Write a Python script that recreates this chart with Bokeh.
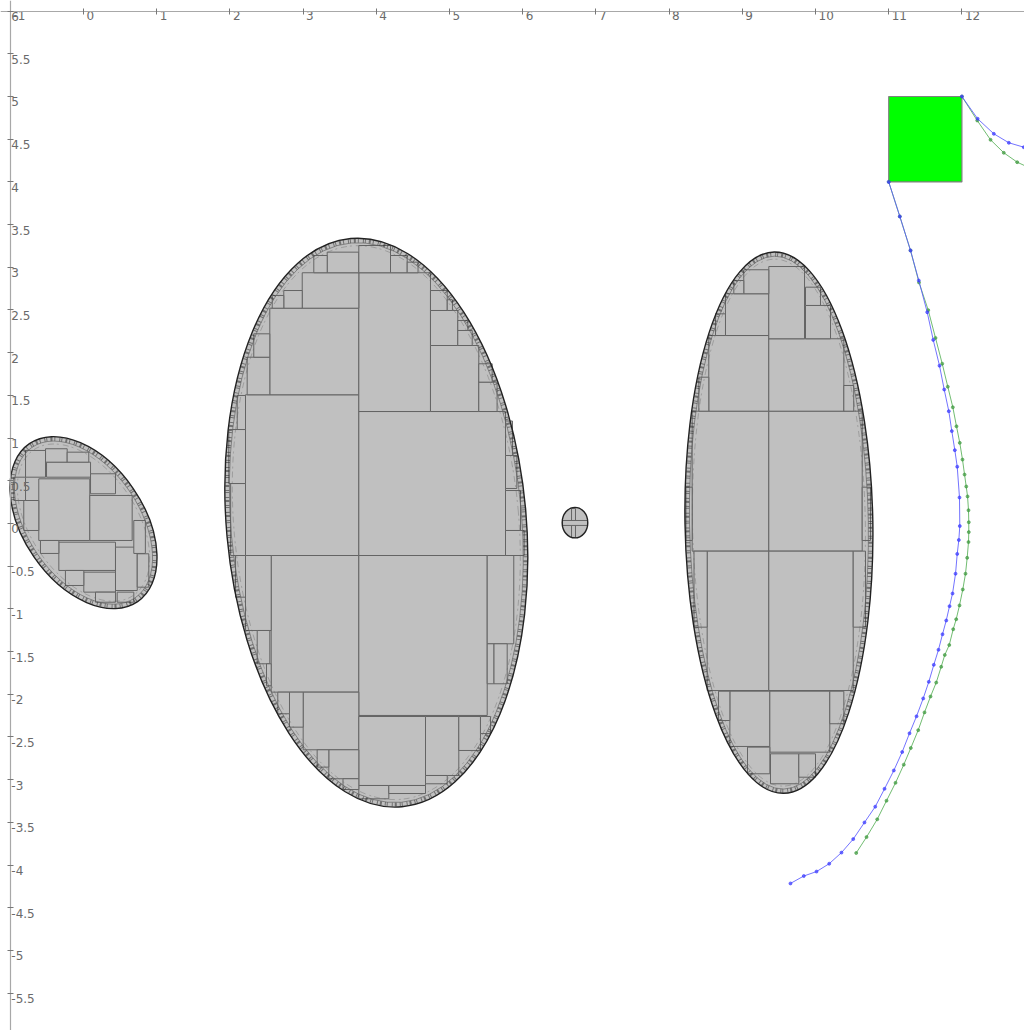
from bokeh.plotting import figure
from bokeh.models import LinearAxis, FixedTicker, Range1d, ColumnDataSource
from bokeh.embed import file_html
from bokeh.resources import INLINE
from bokeh.core.properties import value

# ---------------- data ----------------
x_tick_values = list(range(-1, 13))
x_tick_labels = ["-1", "0", "1", "2", "3", "4", "5", "6", "7", "8", "9", "10", "11", "12"]
y_tick_values = [-5.5, -5, -4.5, -4, -3.5, -3, -2.5, -2, -1.5, -1, -0.5, 0,
                 0.5, 1, 1.5, 2, 2.5, 3, 3.5, 4, 4.5, 5, 5.5, 6]
y_tick_labels = ["-5.5", "-5", "-4.5", "-4", "-3.5", "-3", "-2.5", "-2", "-1.5", "-1", "-0.5", "0",
                 "0.5", "1", "1.5", "2", "2.5", "3", "3.5", "4", "4.5", "5", "5.5", "6"]

# ellipses: small tilted, big, right, tiny circle
ell_x = [0.0, 4.0, 9.5, 6.714]
ell_y = [0.01, 0.01, 0.01, 0.01]
ell_w = [2.615, 4.096, 2.566, 0.35]
ell_h = [1.412, 6.681, 6.347, 0.358]
ell_angle = [-0.970, 0.0899, 0.0175, 0.0]

# rectangles inside the ellipses (left, right, bottom, top)
rect_x0 = [
    # small tilted ellipse
    -0.611, 0.086, -0.337, 0.437, 0.004, -0.505, 0.096, -0.816, -0.519, -0.223, -0.792, 0.734, -0.247, 0.460,
    0.687, -0.952, 0.164, -0.588,
    # big ellipse
    2.213, 3.761, 2.545, 3.761, 2.988, 3.329, 3.761, 4.740, 4.740, 5.113, 5.400, 2.736, 2.236, 2.326,
    4.740, 4.194, 5.765, 5.765, 2.010, 2.100, 1.985, 2.077,
    2.564, 3.761, 2.213, 5.515, 3.001, 3.761, 4.672, 5.127, 3.351, 2.814, 2.373, 5.605, 3.761, 4.171,
    3.545, 2.654, 5.423,
    2.578, 3.146, 4.422, 4.969, 5.113, 5.400, 2.500, 3.192, 4.672, 5.515, 5.765, 5.765,
    # right ellipse
    8.315, 9.362, 8.542, 9.362, 8.770, 9.362, 9.863, 9.020, 8.406, 10.387, 8.634, 8.884, 9.863, 8.230,
    10.638, 8.520, 9.362, 8.340, 10.515, 8.830, 9.376, 9.071, 9.385, 9.772, 10.195, 8.675,
    # tiny circle
    6.667, 6.544,
]
rect_x1 = [
    0.086, 0.665, 0.437, 0.734, 0.437, 0.096, 0.437, -0.611, -0.223, 0.072, -0.519, 0.892, 0.004, 0.687,
    0.845, -0.792, 0.437, -0.337,
    3.761, 5.765, 3.761, 4.740, 3.761, 3.761, 4.194, 5.400, 5.113, 5.310, 5.650, 2.988, 2.545, 2.545,
    4.969, 4.422, 5.920, 5.860, 2.213, 2.213, 2.213, 2.213,
    3.761, 5.515, 2.564, 5.878, 3.761, 4.672, 5.127, 5.423, 3.761, 3.001, 2.545, 5.788, 4.171, 4.672,
    3.761, 2.814, 5.560,
    2.736, 3.329, 4.570, 5.040, 5.250, 5.583, 2.564, 3.351, 4.969, 5.605, 5.970, 6.020,
    9.362, 10.638, 9.362, 10.387, 9.362, 9.850, 10.205, 9.362, 8.542, 10.522, 8.770, 9.020, 10.068, 8.315,
    10.751, 9.362, 10.515, 8.520, 10.683, 9.376, 10.195, 9.376, 9.772, 10.000, 10.387, 8.830,
    6.721, 6.885,
]
rect_y0 = [
    -0.199, -0.199, -0.550, -0.785, -0.804, 0.542, 0.348, -0.082, 0.718, 0.718, 0.542, -0.746, -0.726, -0.922,
    -0.351, 0.269, -0.922, -0.351,
    -0.375, -0.375, 1.507, 1.311, 2.521, 2.936, 2.936, 1.311, 2.084, 2.084, 1.311, 2.521, 1.507, 1.947,
    2.494, 2.936, 0.410, 0.796, -0.375, 1.100, 0.468, -0.863,
    -1.975, -2.248, -1.253, -1.409, -2.650, -3.068, -2.951, -2.658, -2.989, -2.385, -1.643, -1.877, -3.224, -3.162,
    -3.115, -2.228, -2.460,
    2.521, 2.936, 2.936, 2.494, 2.260, 1.655, -1.900, -2.853, -3.048, -1.877, -0.082, -0.375,
    -0.324, -0.324, 1.315, 1.315, 2.201, 2.163, 2.163, 2.690, 1.315, 1.315, 2.201, 2.690, 2.553, -0.199,
    -0.199, -1.956, -1.956, -1.214, -1.214, -2.611, -2.678, -2.931, -3.048, -2.971, -2.345, -2.307,
    -0.164, -0.023,
]
rect_y1 = [
    0.523, 0.328, -0.219, -0.277, -0.570, 0.718, 0.582, 0.269, 0.875, 0.835, 0.855, -0.355, -0.550, -0.804,
    0.035, 0.542, -0.804, -0.199,
    1.507, 1.311, 2.521, 2.936, 2.936, 3.177, 3.255, 2.084, 2.494, 2.260, 1.655, 2.728, 1.947, 2.221,
    2.728, 3.138, 0.796, 1.200, 0.468, 1.499, 1.100, -0.375,
    -0.375, -0.375, -0.375, -0.375, -1.975, -2.260, -2.260, -2.260, -2.650, -1.975, -1.253, -1.409, -3.068, -3.068,
    -2.989, -1.975, -2.260,
    2.670, 3.138, 3.060, 2.620, 2.377, 1.870, -1.643, -2.650, -2.951, -1.409, 0.386, -0.082,
    1.315, 1.315, 2.201, 2.163, 2.690, 3.009, 2.553, 2.971, 1.713, 1.616, 2.455, 2.845, 2.767, 0.425,
    0.425, -0.324, -0.324, -0.324, -0.324, -1.964, -1.964, -2.619, -2.697, -2.697, -1.964, -1.964,
    0.176, 0.035,
]

# green square
sq_left, sq_right, sq_bottom, sq_top = [11.0], [12.0], [4.0], [5.0]

# curves leaving the square corners
blue_low_x = [11.0, 11.152, 11.298, 11.411, 11.526, 11.608, 11.694, 11.758, 11.821, 11.862, 11.903, 11.936,
              11.967, 11.971, 11.958, 11.936, 11.913, 11.872, 11.831, 11.786, 11.735, 11.680, 11.616, 11.548,
              11.471, 11.380, 11.284, 11.184, 11.070, 10.943, 10.816, 10.669, 10.515, 10.355, 10.187, 10.014,
              9.840, 9.658]
blue_low_y = [4.0, 3.595, 3.197, 2.845, 2.474, 2.150, 1.848, 1.569, 1.315, 1.082, 0.859, 0.665,
              0.304, -0.030, -0.193, -0.356, -0.588, -0.820, -0.968, -1.136, -1.297, -1.479, -1.655, -1.854,
              -2.049, -2.258, -2.457, -2.676, -2.892, -3.107, -3.316, -3.501, -3.696, -3.854, -3.984, -4.076,
              -4.128, -4.215]
green_low_x = [11.0, 11.152, 11.298, 11.414, 11.540, 11.639, 11.731, 11.807, 11.876, 11.926, 11.971, 12.008,
               12.036, 12.059, 12.077, 12.090, 12.094, 12.094, 12.090, 12.072, 12.049, 12.012, 11.967, 11.922,
               11.881, 11.827, 11.766, 11.717, 11.649, 11.571, 11.489, 11.403, 11.302, 11.206, 11.093, 10.970,
               10.843, 10.697, 10.556]
green_low_y = [4.0, 3.595, 3.197, 2.822, 2.498, 2.173, 1.871, 1.602, 1.361, 1.138, 0.944, 0.748,
               0.573, 0.433, 0.317, 0.155, 0.015, -0.101, -0.217, -0.402, -0.588, -0.773, -0.959, -1.121,
               -1.238, -1.423, -1.539, -1.678, -1.863, -2.026, -2.212, -2.420, -2.629, -2.824, -3.037, -3.246,
               -3.464, -3.672, -3.858]
blue_up_x = [12.0, 12.215, 12.436, 12.641, 12.846, 13.07]
blue_up_y = [5.0, 4.739, 4.563, 4.458, 4.406, 4.38]
green_up_x = [12.0, 12.209, 12.391, 12.572, 12.755, 12.94]
green_up_y = [5.0, 4.719, 4.493, 4.341, 4.231, 4.157]

# ---------------- figure ----------------
XS = 73.2   # px per x unit (only for pixel insets of the border hatch)
YS = 85.4

p = figure(width=1024, height=1030, x_range=Range1d(-1.134, 12.855), y_range=Range1d(-5.937, 6.124),
           x_axis_type=None, y_axis_type=None, toolbar_location=None, output_backend="svg",
           min_border=0, outline_line_color=None, background_fill_color="white",
           border_fill_color="white")

ell = ColumnDataSource(dict(x=ell_x, y=ell_y, w=ell_w, h=ell_h, a=ell_angle))
p.ellipse(x="x", y="y", width="w", height="h", angle="a", source=ell,
          fill_color="#c0c0c0", line_color=None)

p.quad(left=rect_x0, right=rect_x1, bottom=rect_y0, top=rect_y1,
       fill_color="#c0c0c0", line_color="#646464", line_width=1)

# border fringe of tiny cells (hatch band just inside the outline)
def inset(px):
    return ColumnDataSource(dict(x=ell_x[:3], y=ell_y[:3],
                                 w=[w - 2 * px / XS for w in ell_w[:3]],
                                 h=[h - 2 * px / YS for h in ell_h[:3]], a=ell_angle[:3]))

p.ellipse(x="x", y="y", width="w", height="h", angle="a", source=inset(2.5),
          fill_color=None, line_color="#303030", line_width=4, line_alpha=0.55,
          line_dash="1 1 1 3 2 2 1 4")
p.ellipse(x="x", y="y", width="w", height="h", angle="a", source=inset(4.5),
          fill_color=None, line_color="#606060", line_width=1, line_alpha=0.65)
p.ellipse(x="x", y="y", width="w", height="h", angle="a", source=inset(7.5),
          fill_color=None, line_color="#6a6a6a", line_width=1, line_alpha=0.4,
          line_dash="6 3 2 4")

p.ellipse(x="x", y="y", width="w", height="h", angle="a", source=ell,
          fill_color=None, line_color="#222222", line_width=1.4)

# green square
p.quad(left=sq_left, right=sq_right, bottom=sq_bottom, top=sq_top,
       fill_color="#00ff00", line_color="#808080", line_width=1.2)

# curves
for xs, ys, col, mcol in [(green_low_x, green_low_y, "#58b058", "#3f9a3f"),
                          (green_up_x, green_up_y, "#58b058", "#3f9a3f"),
                          (blue_low_x, blue_low_y, "#5a5aff", "#3a3aff"),
                          (blue_up_x, blue_up_y, "#5a5aff", "#3a3aff")]:
    p.line(xs, ys, line_color=col, line_width=1, line_alpha=0.85)
    p.scatter(xs, ys, size=3, fill_color=mcol, line_color=mcol, line_alpha=0.6, fill_alpha=0.7)

# axes drawn through the data at y=6 (top) and x=-1 (left)
xaxis = LinearAxis(fixed_location=6, ticker=FixedTicker(ticks=x_tick_values),
                   axis_line_color="#a8a8a8", axis_line_width=1.2,
                   major_tick_line_color="#777777", major_tick_in=3, major_tick_out=3,
                   minor_tick_line_color=None, major_label_text_color=None)
yaxis = LinearAxis(fixed_location=-1, ticker=FixedTicker(ticks=y_tick_values),
                   axis_line_color="#a8a8a8", axis_line_width=1.2,
                   major_tick_line_color="#777777", major_tick_in=3, major_tick_out=3,
                   minor_tick_line_color=None, major_label_text_color=None)
p.add_layout(xaxis, "below")
p.add_layout(yaxis, "left")

p.text(x=x_tick_values, y=[6] * len(x_tick_values), text=x_tick_labels,
       x_offset=3, y_offset=0, text_align="left", text_baseline="top",
       text_font=value("DejaVu Sans"), text_font_size="12px", text_color="#6a6a6a")
p.text(x=[-1] * len(y_tick_values), y=y_tick_values, text=y_tick_labels,
       x_offset=1, y_offset=1, text_align="left", text_baseline="top",
       text_font=value("DejaVu Sans"), text_font_size="12px", text_color="#6a6a6a")

open("out.html", "w").write(file_html(p, INLINE))
